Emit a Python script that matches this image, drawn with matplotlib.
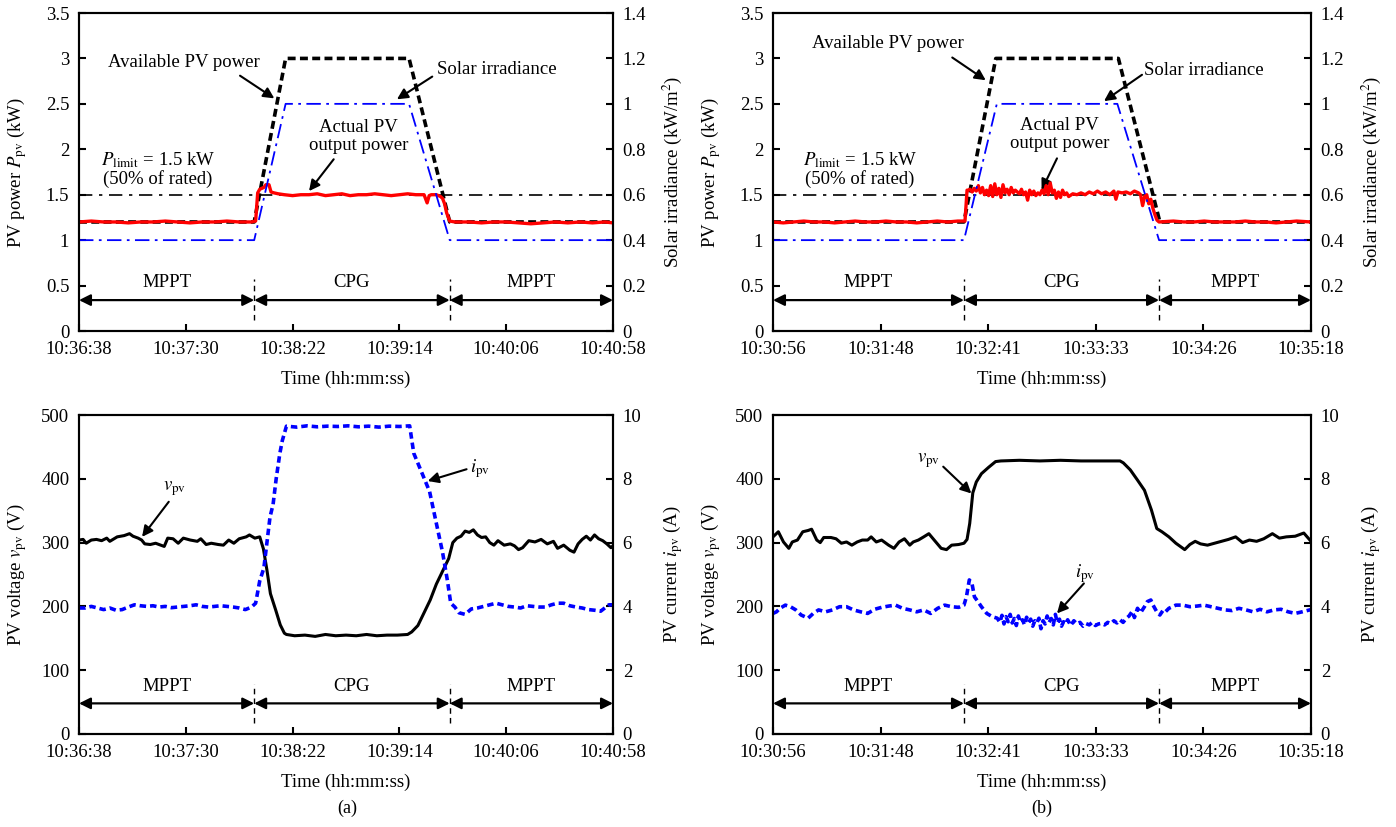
import numpy as np
import matplotlib
matplotlib.use('Agg')
import matplotlib.pyplot as plt

plt.rcParams['font.family'] = ['Liberation Serif', 'DejaVu Serif']
plt.rcParams['mathtext.fontset'] = 'stix'
FS = 13.5

# ---- time axes (seconds from the first tick) ----
span_a = 260
span_b = 262
ticks_a = ['10:36:38', '10:37:30', '10:38:22', '10:39:14', '10:40:06', '10:40:58']
ticks_b = ['10:30:56', '10:31:48', '10:32:41', '10:33:33', '10:34:26', '10:35:18']

# mode boundaries (s) and names
bounds_a = [0, 85.3, 180.5, 260]
bounds_b = [0, 93.0, 188.0, 262]
modes = ['MPPT', 'CPG', 'MPPT']

# ---- (a) power / irradiance ----
t_avail_a = [0, 85.3, 100.6, 160.7, 180.5, 260]
p_avail_a = [1.2, 1.2, 3.0, 3.0, 1.2, 1.2]
t_irr_a = [0, 85.3, 100.6, 160.7, 180.5, 260]
irr_a = [0.4, 0.4, 1.0, 1.0, 0.4, 0.4]
pout_a = [(0, 1.20), (6, 1.21), (12, 1.20), (18, 1.20), (24, 1.19), (30, 1.20), (36, 1.20),
          (42, 1.21), (48, 1.20), (54, 1.19), (60, 1.20), (66, 1.20), (72, 1.21), (78, 1.20),
          (84, 1.20), (86, 1.21), (87, 1.52), (88, 1.56), (90, 1.58), (91, 1.61), (92.5, 1.61),
          (93.5, 1.53), (95, 1.52), (97, 1.51), (100, 1.50), (104, 1.49), (108, 1.50),
          (112, 1.50), (116, 1.51), (120, 1.49), (124, 1.50), (128, 1.51), (132, 1.49),
          (136, 1.50), (140, 1.50), (144, 1.51), (148, 1.50), (152, 1.49), (156, 1.50),
          (160, 1.51), (164, 1.50), (168, 1.50), (169.5, 1.41), (170.5, 1.49), (171.5, 1.50),
          (174, 1.50), (176, 1.48), (177, 1.46), (178, 1.40), (179, 1.30), (180.5, 1.21),
          (183, 1.20), (190, 1.20), (196, 1.19), (202, 1.20), (208, 1.20), (214, 1.19),
          (220, 1.18), (226, 1.19), (232, 1.20), (238, 1.19), (244, 1.20), (250, 1.19),
          (256, 1.20), (260, 1.19)]

# ---- (b) power / irradiance ----
t_avail_b = [0, 93.0, 108.5, 168.2, 188.4, 262]
p_avail_b = [1.2, 1.2, 3.0, 3.0, 1.2, 1.2]
t_irr_b = [0, 93.0, 109.0, 167.7, 188.0, 262]
irr_b = [0.4, 0.4, 1.0, 1.0, 0.4, 0.4]
pout_b = [(0, 1.20), (5, 1.19), (10, 1.20), (15, 1.21), (20, 1.20), (25, 1.20), (30, 1.19),
          (35, 1.20), (40, 1.21), (45, 1.20), (50, 1.20), (55, 1.21), (60, 1.20), (65, 1.20),
          (70, 1.19), (75, 1.20), (80, 1.21), (85, 1.20), (90, 1.21), (93.5, 1.21), (94.5, 1.55),
          (95, 1.55), (96, 1.56), (97, 1.53), (98, 1.57), (99, 1.54), (100, 1.60), (101, 1.52),
          (102, 1.58), (103, 1.50), (104, 1.55), (105, 1.49), (106, 1.60), (107, 1.48),
          (108, 1.62), (109, 1.50), (110, 1.57), (111, 1.47), (112, 1.61), (113, 1.52),
          (114, 1.56), (115, 1.50), (116, 1.58), (117, 1.52), (118, 1.55), (119, 1.53),
          (120, 1.51), (121, 1.56), (122, 1.50), (123, 1.53), (124, 1.44), (125, 1.55),
          (126, 1.50), (127, 1.54), (128, 1.49), (129, 1.52), (130, 1.50), (131, 1.55),
          (132, 1.51), (133, 1.60), (134, 1.50), (135, 1.63), (136, 1.52), (137, 1.55),
          (138, 1.46), (139, 1.53), (140, 1.47), (141, 1.55), (142, 1.50), (143, 1.52),
          (144, 1.48), (146, 1.51), (148, 1.50), (150, 1.52), (152, 1.50), (154, 1.53),
          (156, 1.51), (158, 1.54), (160, 1.51), (162, 1.53), (164, 1.50), (166, 1.54),
          (167, 1.45), (168, 1.53), (170, 1.52), (172, 1.53), (174, 1.51), (176, 1.54),
          (178, 1.52), (179, 1.50), (180, 1.38), (181, 1.48), (182, 1.50), (183, 1.40),
          (184, 1.45), (185, 1.35), (186, 1.28), (187, 1.22), (188, 1.20), (195, 1.21),
          (200, 1.20), (205, 1.20), (210, 1.21), (215, 1.20), (220, 1.20), (225, 1.20),
          (230, 1.21), (235, 1.20), (240, 1.20), (245, 1.19), (250, 1.20), (255, 1.21),
          (262, 1.20)]

# ---- (a) voltage / current ----
vpv_a = [(0, 304), (2, 305), (3.5, 299), (6, 304), (8.5, 305), (11, 303), (13.5, 307), (15, 302),
         (18.6, 309), (22, 311), (24.6, 314), (26.3, 310), (28.8, 307), (30.5, 304), (32, 298),
         (34.7, 297), (37.3, 299), (39.8, 296), (41.5, 294), (43.2, 307), (45.8, 306),
         (48.3, 299), (50.8, 307), (54.2, 304), (57.6, 302), (59.3, 306), (61.9, 297),
         (64.4, 299), (67.8, 297), (70.3, 296), (72.9, 304), (75.4, 299), (78, 306),
         (81.4, 309), (83, 312), (85.6, 307), (88, 309), (89.8, 290), (91.5, 257), (93.2, 220),
         (95.8, 194), (98, 171), (100, 158), (101, 156), (105, 154), (110, 155), (115, 153),
         (120, 156), (125, 154), (130, 155), (135, 154), (140, 156), (145, 154), (150, 155),
         (155, 155), (160, 156), (162, 160), (165, 170), (168, 190), (171, 210), (174, 235),
         (177, 255), (180, 275), (182, 300), (184, 307), (186, 310), (188, 318), (190, 316),
         (192, 320), (194, 312), (196, 308), (198, 309), (200, 300), (202, 296), (204, 303),
         (207, 296), (210, 298), (212, 295), (214, 289), (216, 292), (219, 303), (222, 301),
         (225, 305), (228, 298), (231, 302), (233, 291), (236, 296), (239, 288), (241, 285),
         (243, 298), (245, 305), (247, 310), (249, 304), (251, 312), (253, 306), (255, 303),
         (257, 298), (259, 292), (260, 295)]
ipv_a = [(0, 3.95), (3, 3.95), (6, 4.00), (9, 3.95), (12, 3.90), (15, 3.95), (18, 3.88),
         (21, 3.90), (24, 3.98), (27, 4.05), (30, 4.02), (33, 4.00), (36, 4.02), (39, 3.98),
         (42, 4.00), (45, 3.96), (48, 3.98), (51, 4.00), (54, 4.02), (57, 4.05), (60, 4.00),
         (63, 3.98), (66, 4.00), (69, 4.02), (72, 4.00), (75, 3.98), (78, 3.95), (81, 3.90),
         (84, 3.98), (86, 4.10), (88, 4.80), (90, 5.20), (91.5, 6.00), (93, 6.80), (94.5, 7.20),
         (96, 8.00), (97.8, 8.80), (99, 9.20), (101, 9.65), (106, 9.62), (111, 9.66),
         (116, 9.63), (121, 9.65), (126, 9.64), (131, 9.66), (136, 9.63), (141, 9.65),
         (146, 9.62), (151, 9.65), (156, 9.64), (161, 9.66), (163, 8.80), (167.5, 8.10),
         (170.7, 7.60), (174, 6.60), (177, 5.70), (179.4, 4.80), (181, 4.10), (183, 3.98),
         (185, 3.80), (188, 3.75), (191, 3.92), (194, 3.95), (197, 4.00), (200, 4.05),
         (203, 4.10), (206, 4.05), (209, 4.00), (212, 3.98), (215, 3.95), (218, 4.02),
         (221, 4.00), (224, 3.98), (227, 3.98), (230, 4.05), (233, 4.10), (236, 4.10),
         (239, 4.02), (242, 3.98), (245, 3.95), (248, 3.90), (251, 3.88), (254, 3.85),
         (256, 3.95), (258, 4.05), (260, 4.05)]

# ---- (b) voltage / current ----
vpv_b = [(0, 309), (2.6, 317), (5.1, 301), (7.7, 291), (9.4, 301), (11.9, 304), (14.5, 317),
         (17.1, 319), (18.8, 321), (21.3, 304), (23, 300), (24.7, 308), (28.2, 308), (30.7, 306),
         (33.3, 299), (35.8, 301), (38.4, 296), (41, 301), (43.5, 304), (46.1, 304), (47.8, 309),
         (50.3, 301), (52.9, 304), (56.3, 296), (58.9, 291), (61.4, 301), (64, 306), (66.6, 296),
         (68.3, 301), (70.8, 304), (73.4, 309), (75.9, 314), (78.5, 304), (81.9, 291),
         (84.5, 289), (87, 296), (90.4, 297), (93, 299), (94.5, 305), (95.8, 330), (97.3, 378),
         (99, 395), (101.5, 408), (105, 418), (108.4, 427), (111, 428), (120, 429), (130, 428),
         (140, 429), (150, 428), (160, 428), (169, 428), (170.6, 425), (174, 414), (177.5, 398),
         (180.9, 382), (184.3, 351), (186.9, 322), (189.4, 317), (192.8, 309), (196.2, 299),
         (200.5, 289), (203, 297), (205.6, 302), (208.2, 298), (211.6, 296), (215, 299),
         (218.4, 302), (221.8, 305), (225.3, 309), (228.7, 300), (232, 304), (235.5, 302),
         (239, 306), (243.2, 314), (246.6, 307), (250, 309), (254.3, 310), (258.5, 315),
         (262, 302)]
ipv_b = [(0, 3.78), (1.7, 3.83), (3.4, 3.94), (6.0, 4.04), (8.5, 3.99), (11.1, 3.89), (13.7, 3.73),
         (17.1, 3.63), (19.6, 3.78), (22.2, 3.89), (25.6, 3.83), (29.0, 3.89), (32.4, 3.99),
         (35.8, 3.99), (39.2, 3.89), (42.7, 3.83), (46.1, 3.78), (49.5, 3.91), (52.9, 3.97),
         (56.3, 4.01), (59.7, 4.04), (63.1, 3.94), (66.6, 3.89), (70.0, 3.83), (73.4, 3.89),
         (76.8, 3.78), (80.2, 3.94), (83.6, 4.04), (87.0, 3.99), (90.4, 3.97), (93.0, 4.04),
         (94.2, 4.30), (95.6, 4.83), (96.9, 4.72), (98.1, 4.30), (99.8, 4.15), (101.5, 3.99),
         (104.1, 3.78), (106.7, 3.68), (109.2, 3.63), (110.5, 3.50), (111.5, 3.72), (112.5, 3.45),
         (113.5, 3.68), (114.5, 3.52), (115.5, 3.75), (116.5, 3.48), (117.5, 3.62), (118.5, 3.40),
         (119.5, 3.70), (120.5, 3.50), (121.5, 3.58), (122.5, 3.42), (123.5, 3.66), (124.5, 3.50),
         (125.5, 3.60), (126.5, 3.38), (127.5, 3.55), (128.5, 3.48), (129.5, 3.63), (130.5, 3.30),
         (131.5, 3.55), (132.5, 3.45), (133.5, 3.70), (134.5, 3.50), (135.5, 3.62), (136.5, 3.42),
         (137.5, 3.75), (138.5, 3.48), (139.5, 3.60), (140.5, 3.38), (141.5, 3.52), (142.5, 3.45),
         (143.5, 3.58), (145, 3.40), (146.5, 3.55), (148, 3.45), (149.5, 3.50), (151, 3.38),
         (152.5, 3.46), (154, 3.42), (155.5, 3.50), (157, 3.40), (158.5, 3.45), (160, 3.47),
         (161.5, 3.42), (163, 3.50), (164.5, 3.46), (166, 3.55), (167.5, 3.48), (169, 3.58),
         (170.5, 3.50), (172, 3.62), (173.4, 3.70), (175, 3.85), (176, 3.65), (177.5, 3.94),
         (179, 3.80), (180.9, 3.99), (182.3, 4.15), (184, 4.20), (185, 4.05), (186.9, 3.83),
         (188.4, 3.73), (190, 3.88), (191.1, 3.83), (192.8, 3.94), (196.2, 4.04), (199.6, 4.04),
         (203, 3.99), (206.5, 4.01), (209.9, 4.04), (213.3, 3.99), (216.7, 3.94), (220.1, 3.89),
         (223.5, 3.87), (226.9, 3.94), (230.4, 3.89), (233.8, 3.83), (237.2, 3.91), (240.6, 3.83),
         (244, 3.89), (247.4, 3.91), (250.9, 3.83), (254.3, 3.78), (257.7, 3.83), (262, 3.90)]


def xy(pairs):
    t, v = zip(*pairs)
    return np.array(t), np.array(v)


def fmt(v):
    return ('%g' % v)


def setup(ax, ax2, span, xlabels, ylim, yticks, ylim2, yticks2, ylab, ylab2):
    ax.set_xlim(0, span)
    ax.set_xticks(np.linspace(0, span, 6))
    ax.set_xticklabels(xlabels)
    ax.set_ylim(*ylim)
    ax.set_yticks(yticks)
    ax.set_yticklabels([fmt(v) for v in yticks])
    ax2.set_ylim(*ylim2)
    ax2.set_yticks(yticks2)
    ax2.set_yticklabels([fmt(v) for v in yticks2])
    for a in (ax, ax2):
        for s in a.spines.values():
            s.set_linewidth(1.5)
        a.tick_params(direction='in', length=5, width=1.5, labelsize=FS, pad=7)
    ax.tick_params(axis='y', right=False)
    ax.tick_params(axis='x', top=False)
    ax.set_xlabel('Time (hh:mm:ss)', fontsize=FS)
    ax.xaxis.set_label_coords(0.5, -0.125)
    ax.set_ylabel(ylab, fontsize=FS)
    ax.yaxis.set_label_coords(-0.093, 0.5)
    ax2.set_ylabel(ylab2, fontsize=FS, rotation=90)
    ax2.yaxis.set_label_coords(1.09, 0.5)


def modes_bar(ax, bounds, y_arrow, y_text, y_lo, y_hi):
    for i in range(3):
        ax.annotate('', xy=(bounds[i + 1], y_arrow), xytext=(bounds[i], y_arrow),
                    arrowprops=dict(arrowstyle='<|-|>', color='k', lw=1.6,
                                    mutation_scale=17, shrinkA=0, shrinkB=0))
        ax.text((bounds[i] + bounds[i + 1]) / 2, y_text, modes[i], fontsize=FS,
                ha='center', va='center')
    for b in bounds[1:3]:
        ax.plot([b, b], [y_lo, y_hi], color='k', lw=1.0, ls=(0, (4, 3)))


def arrow(ax, tail, tip):
    ax.annotate('', xy=tip, xytext=tail,
                arrowprops=dict(arrowstyle='-|>', color='k', lw=1.5,
                                mutation_scale=16, shrinkA=0, shrinkB=0))


fig = plt.figure(figsize=(13.96, 8.27), dpi=100)
W, H = 1396, 827


def add_axes(x0, x1, y0, y1):
    return fig.add_axes([x0 / W, 1 - y1 / H, (x1 - x0) / W, (y1 - y0) / H])


# ---------- top panels ----------
panels_top = [
    (79, 613, span_a, ticks_a, bounds_a, t_avail_a, p_avail_a, t_irr_a, irr_a, pout_a,
     [(51, 2.96), (78.4, 2.81), (95.1, 2.56)],
     [(203.4, 2.88), (172, 2.80), (154.8, 2.55)],
     [(136, 2.14), (124, 1.89), (112, 1.54)],
     (38.4, 1.78)),
    (773, 1311, span_b, ticks_b, bounds_b, t_avail_b, p_avail_b, t_irr_b, irr_b, pout_b,
     [(55.8, 3.16), (87.3, 3.01), (103.6, 2.76)],
     [(210, 2.87), (179.7, 2.82), (161.2, 2.53)],
     [(139.7, 2.16), (138.3, 1.90), (130.8, 1.55)],
     (42.3, 1.78)),
]

for (x0, x1, span, tl, bnd, ta, pa, ti, irr, pout, avl, sol, act, plim) in panels_top:
    ax = add_axes(x0, x1, 13, 331)
    ax2 = ax.twinx()
    ax.axhline(1.5, color='k', lw=1.2, ls=(0, (8, 4, 2, 4)))
    ax.plot(ta, pa, color='k', lw=2.6, ls=(0, (2.2, 1.2)))
    tt, pp = xy(pout)
    ax.plot(tt, pp, color='red', lw=2.4, zorder=4)
    ax2.plot(ti, irr, color='blue', lw=1.3, ls=(0, (8, 3, 1.5, 3)))
    setup(ax, ax2, span, tl, (0, 3.5), [0, 0.5, 1, 1.5, 2, 2.5, 3, 3.5],
          (0, 1.4), [0, 0.2, 0.4, 0.6, 0.8, 1.0, 1.2, 1.4],
          r'PV power $P_{\mathrm{pv}}$ (kW)', r'Solar irradiance (kW/m$^2$)')
    modes_bar(ax, bnd, 0.34, 0.53, 0.12, 0.57)
    ax.text(avl[0][0], avl[0][1], 'Available PV power', fontsize=FS, ha='center', va='center')
    arrow(ax, avl[1], avl[2])
    ax.text(sol[0][0], sol[0][1], 'Solar irradiance', fontsize=FS, ha='center', va='center')
    arrow(ax, sol[1], sol[2])
    ax.text(act[0][0], act[0][1], 'Actual PV\noutput power', fontsize=FS, ha='center',
            va='center', linespacing=1.1)
    arrow(ax, act[1], act[2])
    ax.text(plim[0], plim[1], '$P_{\\mathrm{limit}}$ = 1.5 kW\n(50% of rated)', fontsize=FS,
            ha='center', va='center', linespacing=1.05)

# ---------- bottom panels ----------
panels_bot = [
    (79, 613, span_a, ticks_a, bounds_a, vpv_a, ipv_a,
     [(46.3, 385), (43.7, 364), (30.7, 309)],
     [(195.2, 416), (188.7, 415), (169.8, 396.5)], 347, '(a)'),
    (773, 1311, span_b, ticks_b, bounds_b, vpv_b, ipv_b,
     [(75.8, 428), (82.9, 419), (96.6, 377)],
     [(151.9, 252), (151.4, 236), (138.3, 189)], 1042, '(b)'),
]

for (x0, x1, span, tl, bnd, vp, ip, vlab, ilab, xc, tag) in panels_bot:
    ax = add_axes(x0, x1, 415, 734)
    ax2 = ax.twinx()
    tv, vv = xy(vp)
    ax.plot(tv, vv, color='k', lw=2.2)
    ti_, ii = xy(ip)
    ax2.plot(ti_, ii, color='blue', lw=2.6, ls=(0, (1.8, 1.1)))
    setup(ax, ax2, span, tl, (0, 500), [0, 100, 200, 300, 400, 500],
          (0, 10), [0, 2, 4, 6, 8, 10],
          r'PV voltage $v_{\mathrm{pv}}$ (V)', r'PV current $i_{\mathrm{pv}}$ (A)')
    modes_bar(ax, bnd, 48, 75, 17, 79)
    ax.text(vlab[0][0], vlab[0][1], r'$v_{\mathrm{pv}}$', fontsize=FS, ha='center', va='center')
    arrow(ax, vlab[1], vlab[2])
    ax.text(ilab[0][0], ilab[0][1], r'$i_{\mathrm{pv}}$', fontsize=FS, ha='center', va='center')
    arrow(ax, ilab[1], ilab[2])
    fig.text(xc / W, 1 - 808 / H, tag, fontsize=FS - 0.5, ha='center', va='center')

fig.savefig('out.png', dpi=100)
